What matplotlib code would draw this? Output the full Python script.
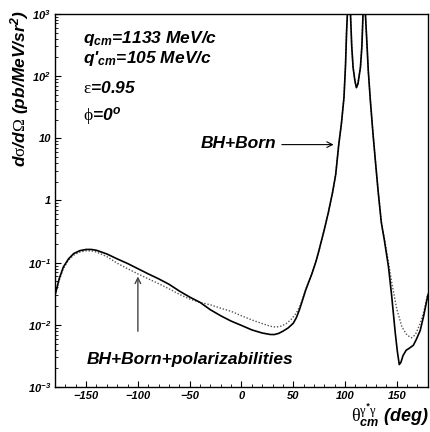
import matplotlib
matplotlib.use('Agg')
import matplotlib.pyplot as plt
from matplotlib.ticker import FixedLocator, FixedFormatter, MultipleLocator, NullFormatter

plt.rcParams['font.family'] = 'Liberation Sans'
plt.rcParams['font.weight'] = 'bold'
plt.rcParams['font.style'] = 'italic'
plt.rcParams['mathtext.fontset'] = 'custom'
plt.rcParams['mathtext.rm'] = 'Liberation Sans:italic:bold'
plt.rcParams['mathtext.it'] = 'Liberation Sans:italic:bold'
plt.rcParams['mathtext.bf'] = 'Liberation Sans:italic:bold'
plt.rcParams['mathtext.sf'] = 'Liberation Serif:style=normal:weight=normal'

# BH+Born (solid)
theta_born = [-180, -176, -172, -167, -162, -156, -150, -145, -140, -130, -120, -110,
              -100, -90, -80, -70, -60, -50, -40, -30, -20, -10, 0, 10, 20, 28, 32,
              36, 40, 45, 50, 53, 56, 59, 62, 65, 68, 72, 75, 80, 84, 88, 91, 94, 96.5,
              99, 100.5, 101.5, 102.3, 103.5, 104.5, 105.3, 106.5, 107.8, 109.5, 111,
              112.5, 114.9, 116.3, 117.4, 118.5, 119.7, 121, 122.5, 124.5, 127, 129.3,
              132, 135, 138, 142, 145, 148.5, 150.5, 152.4, 154, 156, 159, 162, 166,
              169, 172.6, 176, 180]
xs_born = [0.030, 0.055, 0.085, 0.115, 0.140, 0.156, 0.163, 0.163, 0.158, 0.138, 0.115,
           0.097, 0.080, 0.066, 0.055, 0.045, 0.035, 0.028, 0.023, 0.0175, 0.0140,
           0.0115, 0.0098, 0.0083, 0.0074, 0.0070, 0.0070, 0.0073, 0.0079, 0.0089,
           0.0106, 0.0130, 0.0175, 0.025, 0.036, 0.049, 0.066, 0.105, 0.16, 0.34,
           0.65, 1.35, 2.6, 8.0, 17, 45, 150, 500, 1000, 5000, 5000, 1000, 300, 138,
           85, 65, 75, 138, 300, 1000, 5000, 1000, 380, 120, 40, 12, 4.4, 1.4, 0.45,
           0.23, 0.085, 0.030, 0.0075, 0.0038, 0.0023, 0.0025, 0.0032, 0.0039,
           0.0042, 0.0047, 0.0059, 0.0081, 0.014, 0.030]

# BH+Born+polarizabilities (dotted)
theta_pol = [-180, -176, -172, -167, -162, -156, -150, -145, -140, -130, -120, -110,
             -100, -90, -80, -70, -60, -50, -40, -30, -20, -10, 0, 10, 20, 28, 33,
             38, 43, 48, 53, 57, 62, 65, 68, 72, 75, 80, 84, 88, 91, 94, 96.5, 99,
             100.5, 101.5, 102.3, 103.5, 104.5, 105.3, 106.5, 107.8, 109.5, 111,
             112.5, 114.9, 116.3, 117.4, 118.5, 119.7, 121, 122.5, 124.5, 127, 129.3,
             132, 135.7, 138, 142, 145.3, 150, 155, 160, 164.5, 168, 172.6, 176, 180]
xs_pol = [0.030, 0.052, 0.080, 0.110, 0.132, 0.148, 0.155, 0.155, 0.148, 0.125, 0.098,
          0.080, 0.066, 0.055, 0.046, 0.038, 0.031, 0.026, 0.023, 0.021, 0.0185,
          0.0165, 0.0140, 0.0120, 0.0105, 0.0095, 0.0092, 0.0095, 0.0104, 0.0122,
          0.0155, 0.021, 0.037, 0.050, 0.066, 0.105, 0.16, 0.34, 0.65, 1.35, 2.6, 8.0,
          17, 45, 150, 500, 1000, 5000, 5000, 1000, 300, 138, 85, 65, 75, 138, 300,
          1000, 5000, 1000, 380, 120, 40, 12, 4.4, 1.4, 0.37, 0.25, 0.10, 0.046,
          0.018, 0.0092, 0.0068, 0.0062, 0.0070, 0.0105, 0.016, 0.032]

ytick_vals = [1e-3, 1e-2, 1e-1, 1, 10, 1e2, 1e3]
ytick_labels = [r'$10^{-3}$', r'$10^{-2}$', r'$10^{-1}$', '1', '10', r'$10^{2}$', r'$10^{3}$']

fig = plt.figure(figsize=(4.30, 4.32), dpi=100)
ax = fig.add_axes([0.128, 0.104, 0.867, 0.864])

ax.plot(theta_pol, xs_pol, color='#555555', lw=1.0, ls=(0, (1, 1.3)))
ax.plot(theta_born, xs_born, color='black', lw=1.2)

ax.set_yscale('log')
ax.set_xlim(-180, 180)
ax.set_ylim(1e-3, 1e3)

ax.xaxis.set_major_locator(MultipleLocator(50))
ax.xaxis.set_minor_locator(MultipleLocator(10))
ax.yaxis.set_major_locator(FixedLocator(ytick_vals))
ax.yaxis.set_major_formatter(FixedFormatter(ytick_labels))
ax.yaxis.set_minor_formatter(NullFormatter())

ax.tick_params(which='both', direction='in', top=False, right=False, labelsize=8)
ax.tick_params(which='major', length=4.5, width=0.8)
ax.tick_params(which='minor', length=2.3, width=0.6)
ax.tick_params(axis='x', pad=3)
ax.tick_params(axis='y', pad=3)
for sp in ax.spines.values():
    sp.set_linewidth(1.0)

fs = 12.5
ax.text(0.075, 0.923, r'q$_{cm}$=1133 MeV/c', transform=ax.transAxes, fontsize=fs,
        va='baseline')
ax.text(0.075, 0.868, r"q$'_{cm}$=105 MeV/c", transform=ax.transAxes, fontsize=fs,
        va='baseline')
ax.text(0.075, 0.787, r'$\mathsf{\epsilon}$=0.95', transform=ax.transAxes, fontsize=fs,
        va='baseline')
ax.text(0.075, 0.716, r'$\mathsf{\phi}$=0$^{o}$', transform=ax.transAxes, fontsize=fs,
        va='baseline')

ax.text(0.391, 0.641, 'BH+Born', transform=ax.transAxes, fontsize=fs, va='baseline')
ax.annotate('', xy=(89, 7.9), xytext=(39, 7.9),
            arrowprops=dict(arrowstyle='->', color='black', lw=0.8, shrinkA=0, shrinkB=0))

ax.text(0.086, 0.0625, 'BH+Born+polarizabilities', transform=ax.transAxes,
        fontsize=fs, va='baseline')
ax.annotate('', xy=(-100, 0.06), xytext=(-100, 0.0079),
            arrowprops=dict(arrowstyle='->', color='#444444', lw=1.0, shrinkA=0, shrinkB=0))

fig.text(0.046, 0.977, r'd$\mathsf{\sigma}$/d$\mathsf{\Omega}$ (pb/MeV/sr$^{2}$)',
         rotation=90, ha='center', va='top', fontsize=12.5)
fig.text(0.998, 0.024, r'$\mathsf{\theta}^{\mathsf{\gamma}^{*}\mathsf{\gamma}}_{cm}$ (deg)',
         ha='right', va='baseline', fontsize=13)

fig.savefig('out.png', dpi=100)
